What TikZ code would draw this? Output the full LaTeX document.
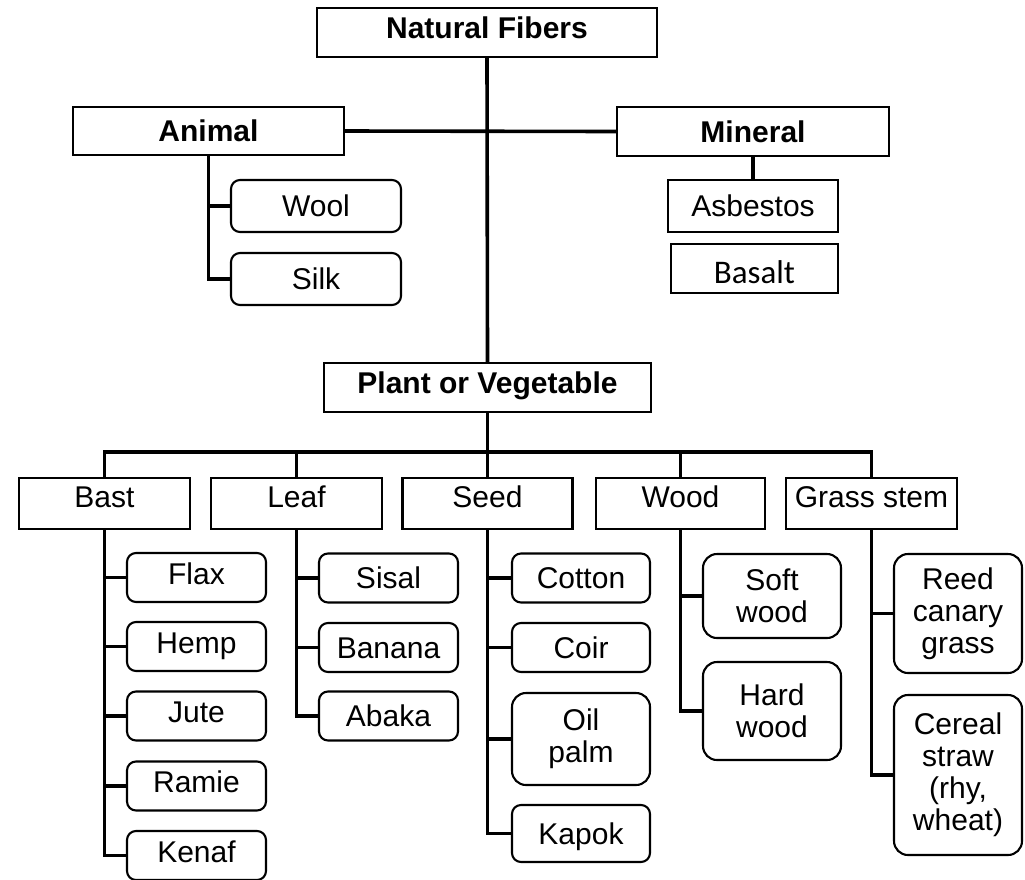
\documentclass[tikz,border=0pt]{standalone}
\usepackage{fontspec}
\setmainfont{Liberation Sans}
\newfontfamily\calibfont{Carlito}
\begin{document}
\begin{tikzpicture}[x=1pt,y=-1pt,
  box/.style={draw, line width=2.1pt, inner sep=0pt, align=center,
    font=\fontsize{30}{32}\selectfont},
  cen/.style={text height=22pt, text depth=0.6pt},
  up4/.style={text height=22pt, text depth=8.6pt},
  up5/.style={text height=22pt, text depth=10.6pt},
  up7/.style={text height=22pt, text depth=14.6pt},
  hdr/.style={box, font=\bfseries\fontsize{30}{32}\selectfont},
  catbox/.style={box},
  kid/.style={box, rounded corners=9pt},
  kidm/.style={box, rounded corners=14pt},
  conn/.style={line width=3.6pt}]
\useasboundingbox (0,0) rectangle (1025,879);
\fill[white] (0,0) rectangle (1025,879);
\clip (0,0) rectangle (1025,879);

% top levels
\node[hdr, up5, minimum width=340pt, minimum height=49pt] (nf) at (487,32.5) {Natural Fibers};
\node[hdr, cen, minimum width=271pt, minimum height=48pt] (animal) at (208.5,131) {Animal};
\node[hdr, cen, minimum width=272pt, minimum height=49pt] (mineral) at (753,131.5) {Mineral};
\node[catbox, cen, minimum width=170pt, minimum height=52pt] (asb) at (753,206) {Asbestos};
\node[draw, line width=1.5pt, inner sep=0pt, minimum width=167pt, minimum height=49pt,
  font=\calibfont\fontsize{33}{35}\selectfont, text height=31pt, text depth=0.8pt] (basalt) at (754.5,268.5) {Basalt};
\node[kid, cen, minimum width=170pt, minimum height=52pt] (wool) at (316,206) {Wool};
\node[kid, cen, minimum width=170pt, minimum height=52pt] (silk) at (316,279) {Silk};
\node[hdr, up5, minimum width=327pt, minimum height=49pt] (plant) at (487.5,387.5) {Plant or Vegetable};

% categories
\node[catbox, up7, minimum width=171pt, minimum height=51pt] (bast) at (104.5,503.5) {Bast};
\node[catbox, up7, minimum width=171pt, minimum height=51pt] (leaf) at (296.5,503.5) {Leaf};
\node[catbox, up7, minimum width=170pt, minimum height=51pt] (seed) at (487.5,503.5) {Seed};
\node[catbox, up7, minimum width=169pt, minimum height=51pt] (wood) at (680.5,503.5) {Wood};
\node[catbox, up7, minimum width=171pt, minimum height=51pt] (grass) at (871.5,503.5) {Grass stem};

% bast kids
\node[kid, up4, minimum width=139pt, minimum height=49pt] (flax) at (196.5,577.5) {Flax};
\node[kid, up4, minimum width=139pt, minimum height=49pt] (hemp) at (196.5,646.5) {Hemp};
\node[kid, up4, minimum width=139pt, minimum height=49pt] (jute) at (196.5,716) {Jute};
\node[kid, up4, minimum width=139pt, minimum height=49pt] (ramie) at (196.5,786) {Ramie};
\node[kid, up4, minimum width=139pt, minimum height=49pt] (kenaf) at (196.5,855.5) {Kenaf};

% leaf kids
\node[kid, cen, minimum width=139pt, minimum height=49pt] (sisal) at (388.5,578) {Sisal};
\node[kid, cen, minimum width=139pt, minimum height=49pt] (banana) at (388.5,647.5) {Banana};
\node[kid, cen, minimum width=139pt, minimum height=49pt] (abaka) at (388.5,716) {Abaka};

% seed kids
\node[kid, cen, minimum width=138pt, minimum height=49pt] (cotton) at (581,578) {Cotton};
\node[kid, cen, minimum width=138pt, minimum height=49pt] (coir) at (581,647.5) {Coir};
\node[kidm, minimum width=138pt, minimum height=92pt] (oil) at (581,739) {Oil\\palm};
\node[kid, cen, minimum width=138pt, minimum height=57pt] (kapok) at (581,833.5) {Kapok};

% wood kids
\node[kidm, minimum width=138pt, minimum height=84pt] (soft) at (772,596) {Soft\\wood};
\node[kidm, minimum width=138pt, minimum height=98pt] (hard) at (772,711) {Hard\\wood};

% grass kids
\node[kidm, minimum width=128pt, minimum height=119pt] (reed) at (958,613.5) {Reed\\canary\\grass};
\node[kidm, minimum width=128pt, minimum height=160pt] (cereal) at (958,775) {Cereal\\straw\\(rhy,\\wheat)};

% connectors
\coordinate (bus) at (487.5,452);
\draw[conn] (nf.south) -- (plant.north);
\draw[conn] (animal.east) -- (mineral.west);
\draw[conn] (mineral.south) -- (asb.north);
\draw[conn] (animal.south) |- (silk.west);
\draw[conn] (animal.south |- wool.west) -- (wool.west);

\draw[conn] (plant.south) -- (bus);
\draw[conn] (bast.north) |- (bus) -| (grass.north);
\draw[conn] (leaf.north) -- (leaf.north |- bus);
\draw[conn] (seed.north) -- (seed.north |- bus);
\draw[conn] (wood.north) -- (wood.north |- bus);

\draw[conn] (bast.south) |- (kenaf.west);
\foreach \k in {flax,hemp,jute,ramie} \draw[conn] (bast.south |- \k.west) -- (\k.west);
\draw[conn] (leaf.south) |- (abaka.west);
\foreach \k in {sisal,banana} \draw[conn] (leaf.south |- \k.west) -- (\k.west);
\draw[conn] (seed.south) |- (kapok.west);
\foreach \k in {cotton,coir,oil} \draw[conn] (seed.south |- \k.west) -- (\k.west);
\draw[conn] (wood.south) |- (hard.west);
\draw[conn] (wood.south |- soft.west) -- (soft.west);
\draw[conn] (grass.south) |- (cereal.west);
\draw[conn] (grass.south |- reed.west) -- (reed.west);
\end{tikzpicture}
\end{document}
